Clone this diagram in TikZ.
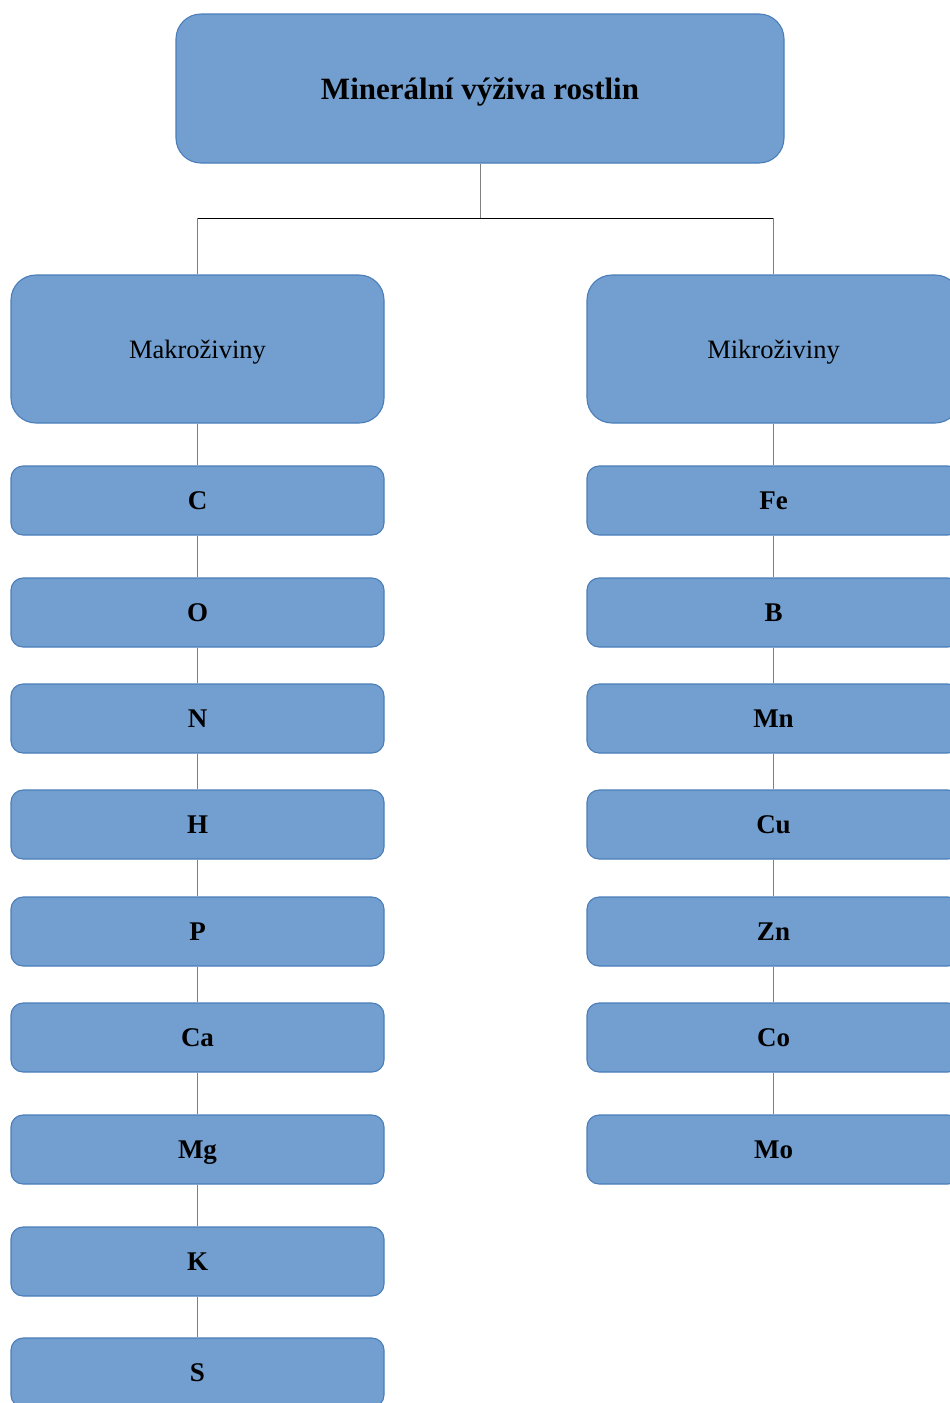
\documentclass[tikz,border=0pt]{standalone}
\usepackage{fontspec}
\setmainfont{Liberation Serif}
\definecolor{boxfill}{HTML}{729FCF}
\definecolor{boxline}{HTML}{4A7EBB}
\definecolor{conn}{HTML}{7F7F7F}
\begin{document}
\begin{tikzpicture}[x=1pt,y=-1pt,
  bigbox/.style={draw=boxline,fill=boxfill,line width=1.1pt,rounded corners=25pt,inner sep=0pt,text=black},
  elbox/.style={draw=boxline,fill=boxfill,line width=1.1pt,rounded corners=12pt,inner sep=0pt,
    minimum width=373pt,minimum height=69pt,font=\fontsize{27}{30}\selectfont\bfseries,text=black,
    text height=18pt,text depth=0pt},
  conline/.style={draw=conn,line width=1pt}]
\clip (0,0) rectangle (950,1403);
\fill[white] (0,0) rectangle (950,1403);
\node[bigbox,minimum width=608pt,minimum height=149pt,font=\fontsize{31}{34}\selectfont\bfseries,text height=26pt,text depth=5pt] (top) at (480,88.5) {Minerální výživa rostlin};
\node[bigbox,minimum width=373pt,minimum height=148pt,font=\fontsize{26.5}{30}\selectfont,text height=23pt,text depth=5pt] (makro) at (197.5,349) {Makroživiny};
\node[bigbox,minimum width=373pt,minimum height=148pt,font=\fontsize{26.5}{30}\selectfont,text height=23pt,text depth=5pt] (mikro) at (773.5,349) {Mikroživiny};
\coordinate (hub) at (480,218);
\coordinate (hl) at (197.5,218);
\coordinate (hr) at (773.5,218);
\draw[conline] (top.south) -- (hub);
\draw[black,line width=1pt] (hl) -- (hr);
\draw[conline] (hl) -- (makro.north);
\draw[conline] (hr) -- (mikro.north);
% left column
\foreach \n/\t/\y in {lc/C/500.5, lo/O/612.5, ln/N/718.5, lh/H/824.5, lp/P/931.5, lca/Ca/1037.5, lmg/Mg/1149.5, lk/K/1261.5, ls/S/1372.5}
  \node[elbox] (\n) at (197.5,\y) {\t};
\foreach \a/\b in {makro/lc, lc/lo, lo/ln, ln/lh, lh/lp, lp/lca, lca/lmg, lmg/lk, lk/ls}
  \draw[conline] (\a.south) -- (\b.north);
% right column
\foreach \n/\t/\y in {rfe/Fe/500.5, rb/B/612.5, rmn/Mn/718.5, rcu/Cu/824.5, rzn/Zn/931.5, rco/Co/1037.5, rmo/Mo/1149.5}
  \node[elbox] (\n) at (773.5,\y) {\t};
\foreach \a/\b in {mikro/rfe, rfe/rb, rb/rmn, rmn/rcu, rcu/rzn, rzn/rco, rco/rmo}
  \draw[conline] (\a.south) -- (\b.north);
\end{tikzpicture}
\end{document}
